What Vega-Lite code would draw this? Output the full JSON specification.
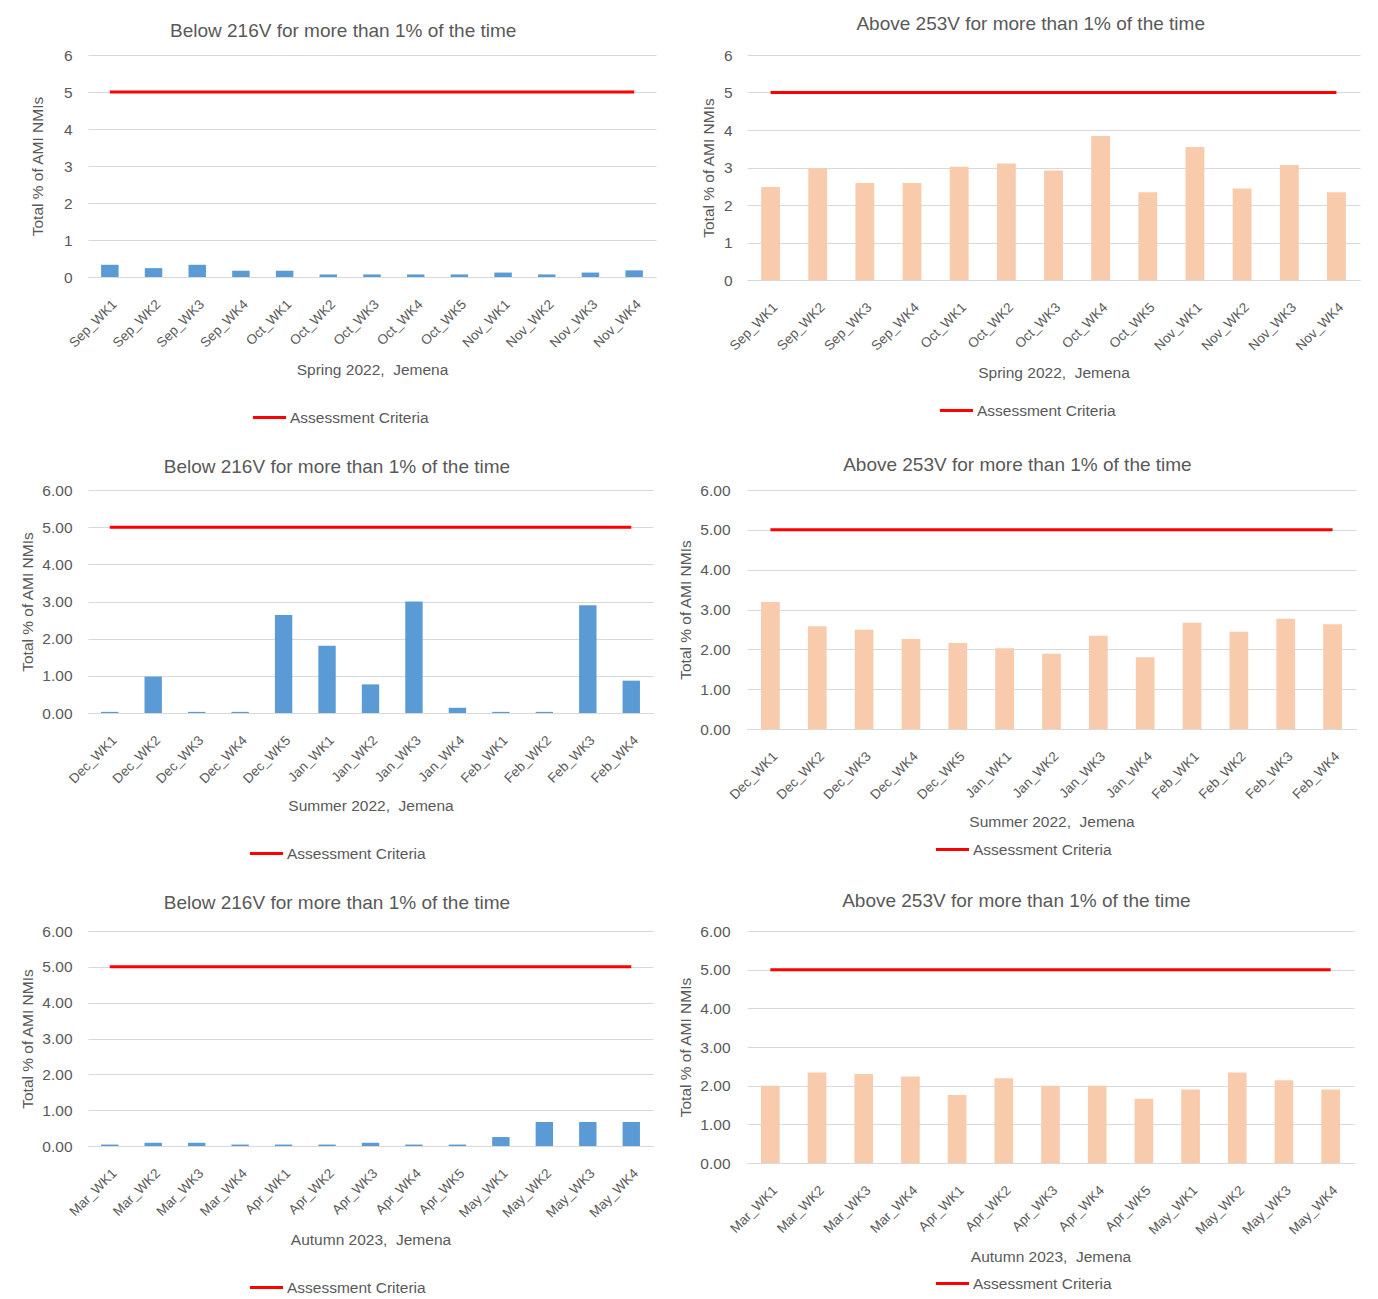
{
  "$schema": "https://vega.github.io/schema/vega-lite/v6.json",
  "background": "white",
  "padding": {"left": 20, "top": 15, "right": 5, "bottom": 0},
  "datasets": {
    "p1": [
      {"week": "Sep_WK1", "value": 0.33, "criteria": 5},
      {"week": "Sep_WK2", "value": 0.24, "criteria": 5},
      {"week": "Sep_WK3", "value": 0.33, "criteria": 5},
      {"week": "Sep_WK4", "value": 0.17, "criteria": 5},
      {"week": "Oct_WK1", "value": 0.17, "criteria": 5},
      {"week": "Oct_WK2", "value": 0.07, "criteria": 5},
      {"week": "Oct_WK3", "value": 0.07, "criteria": 5},
      {"week": "Oct_WK4", "value": 0.07, "criteria": 5},
      {"week": "Oct_WK5", "value": 0.07, "criteria": 5},
      {"week": "Nov_WK1", "value": 0.12, "criteria": 5},
      {"week": "Nov_WK2", "value": 0.07, "criteria": 5},
      {"week": "Nov_WK3", "value": 0.12, "criteria": 5},
      {"week": "Nov_WK4", "value": 0.18, "criteria": 5}
    ],
    "p2": [
      {"week": "Sep_WK1", "value": 2.48, "criteria": 5},
      {"week": "Sep_WK2", "value": 2.98, "criteria": 5},
      {"week": "Sep_WK3", "value": 2.59, "criteria": 5},
      {"week": "Sep_WK4", "value": 2.59, "criteria": 5},
      {"week": "Oct_WK1", "value": 3.02, "criteria": 5},
      {"week": "Oct_WK2", "value": 3.11, "criteria": 5},
      {"week": "Oct_WK3", "value": 2.92, "criteria": 5},
      {"week": "Oct_WK4", "value": 3.84, "criteria": 5},
      {"week": "Oct_WK5", "value": 2.34, "criteria": 5},
      {"week": "Nov_WK1", "value": 3.55, "criteria": 5},
      {"week": "Nov_WK2", "value": 2.44, "criteria": 5},
      {"week": "Nov_WK3", "value": 3.07, "criteria": 5},
      {"week": "Nov_WK4", "value": 2.34, "criteria": 5}
    ],
    "p3": [
      {"week": "Dec_WK1", "value": 0.03, "criteria": 5},
      {"week": "Dec_WK2", "value": 0.98, "criteria": 5},
      {"week": "Dec_WK3", "value": 0.03, "criteria": 5},
      {"week": "Dec_WK4", "value": 0.03, "criteria": 5},
      {"week": "Dec_WK5", "value": 2.64, "criteria": 5},
      {"week": "Jan_WK1", "value": 1.81, "criteria": 5},
      {"week": "Jan_WK2", "value": 0.77, "criteria": 5},
      {"week": "Jan_WK3", "value": 3.0, "criteria": 5},
      {"week": "Jan_WK4", "value": 0.14, "criteria": 5},
      {"week": "Feb_WK1", "value": 0.03, "criteria": 5},
      {"week": "Feb_WK2", "value": 0.03, "criteria": 5},
      {"week": "Feb_WK3", "value": 2.9, "criteria": 5},
      {"week": "Feb_WK4", "value": 0.87, "criteria": 5}
    ],
    "p4": [
      {"week": "Dec_WK1", "value": 3.19, "criteria": 5},
      {"week": "Dec_WK2", "value": 2.58, "criteria": 5},
      {"week": "Dec_WK3", "value": 2.49, "criteria": 5},
      {"week": "Dec_WK4", "value": 2.26, "criteria": 5},
      {"week": "Dec_WK5", "value": 2.16, "criteria": 5},
      {"week": "Jan_WK1", "value": 2.03, "criteria": 5},
      {"week": "Jan_WK2", "value": 1.89, "criteria": 5},
      {"week": "Jan_WK3", "value": 2.34, "criteria": 5},
      {"week": "Jan_WK4", "value": 1.8, "criteria": 5},
      {"week": "Feb_WK1", "value": 2.67, "criteria": 5},
      {"week": "Feb_WK2", "value": 2.44, "criteria": 5},
      {"week": "Feb_WK3", "value": 2.77, "criteria": 5},
      {"week": "Feb_WK4", "value": 2.63, "criteria": 5}
    ],
    "p5": [
      {"week": "Mar_WK1", "value": 0.04, "criteria": 5},
      {"week": "Mar_WK2", "value": 0.09, "criteria": 5},
      {"week": "Mar_WK3", "value": 0.09, "criteria": 5},
      {"week": "Mar_WK4", "value": 0.04, "criteria": 5},
      {"week": "Apr_WK1", "value": 0.04, "criteria": 5},
      {"week": "Apr_WK2", "value": 0.04, "criteria": 5},
      {"week": "Apr_WK3", "value": 0.09, "criteria": 5},
      {"week": "Apr_WK4", "value": 0.04, "criteria": 5},
      {"week": "Apr_WK5", "value": 0.04, "criteria": 5},
      {"week": "May_WK1", "value": 0.25, "criteria": 5},
      {"week": "May_WK2", "value": 0.67, "criteria": 5},
      {"week": "May_WK3", "value": 0.67, "criteria": 5},
      {"week": "May_WK4", "value": 0.67, "criteria": 5}
    ],
    "p6": [
      {"week": "Mar_WK1", "value": 2.0, "criteria": 5},
      {"week": "Mar_WK2", "value": 2.34, "criteria": 5},
      {"week": "Mar_WK3", "value": 2.3, "criteria": 5},
      {"week": "Mar_WK4", "value": 2.24, "criteria": 5},
      {"week": "Apr_WK1", "value": 1.76, "criteria": 5},
      {"week": "Apr_WK2", "value": 2.19, "criteria": 5},
      {"week": "Apr_WK3", "value": 2.0, "criteria": 5},
      {"week": "Apr_WK4", "value": 2.0, "criteria": 5},
      {"week": "Apr_WK5", "value": 1.66, "criteria": 5},
      {"week": "May_WK1", "value": 1.9, "criteria": 5},
      {"week": "May_WK2", "value": 2.34, "criteria": 5},
      {"week": "May_WK3", "value": 2.14, "criteria": 5},
      {"week": "May_WK4", "value": 1.9, "criteria": 5}
    ]
  },
  "resolve": {"scale": {"color": "independent"}, "legend": {"color": "independent"}},
  "columns": 2,
  "spacing": {"row": 30, "column": 22},
  "concat": [
    {
      "width": 568, "height": 222,
      "data": {"name": "p1"},
      "title": {"text": "Below 216V for more than 1% of the time", "offset": 7},
      "encoding": {"x": {"field": "week", "type": "nominal", "sort": null, "scale": {"paddingInner": 0.6, "paddingOuter": 0.3}, "axis": {"title": "Spring 2022,\u00a0 Jemena"}}},
      "layer": [
        {"mark": {"type": "bar", "color": "#5B9BD5"},
         "encoding": {"y": {"field": "value", "type": "quantitative", "scale": {"domain": [0, 6]}, "axis": {"title": "Total % of AMI NMIs", "values": [0,1,2,3,4,5,6], "format": "d", "titlePadding": 18, "labelPadding": 16}}}},
        {"mark": {"type": "line", "strokeWidth": 3},
         "encoding": {"y": {"field": "criteria", "type": "quantitative", "scale": {"domain": [0, 6]}, "axis": {"title": "Total % of AMI NMIs", "values": [0,1,2,3,4,5,6], "format": "d", "titlePadding": 18, "labelPadding": 16}},
           "color": {"datum": "Assessment Criteria", "type": "nominal", "scale": {"range": ["#FF0000"]}, "legend": {"orient": "none", "legendX": 163, "legendY": 344}}}}
      ]
    },
    {
      "width": 613, "height": 225,
      "data": {"name": "p2"},
      "title": {"text": "Above 253V for more than 1% of the time", "offset": 14},
      "encoding": {"x": {"field": "week", "type": "nominal", "sort": null, "scale": {"paddingInner": 0.6, "paddingOuter": 0.3}, "axis": {"title": "Spring 2022,\u00a0 Jemena"}}},
      "layer": [
        {"mark": {"type": "bar", "color": "#F8CBAD"},
         "encoding": {"y": {"field": "value", "type": "quantitative", "scale": {"domain": [0, 6]}, "axis": {"title": "Total % of AMI NMIs", "values": [0,1,2,3,4,5,6], "format": "d", "titlePadding": 7, "labelPadding": 15}}}},
        {"mark": {"type": "line", "strokeWidth": 3},
         "encoding": {"y": {"field": "criteria", "type": "quantitative", "scale": {"domain": [0, 6]}, "axis": {"title": "Total % of AMI NMIs", "values": [0,1,2,3,4,5,6], "format": "d", "titlePadding": 7, "labelPadding": 15}},
           "color": {"datum": "Assessment Criteria", "type": "nominal", "scale": {"range": ["#FF0000"]}, "legend": {"orient": "none", "legendX": 191, "legendY": 337}}}}
      ]
    },
    {
      "width": 565, "height": 223,
      "data": {"name": "p3"},
      "title": {"text": "Below 216V for more than 1% of the time", "offset": 6},
      "encoding": {"x": {"field": "week", "type": "nominal", "sort": null, "scale": {"paddingInner": 0.6, "paddingOuter": 0.3}, "axis": {"title": "Summer 2022,\u00a0 Jemena"}}},
      "layer": [
        {"mark": {"type": "bar", "color": "#5B9BD5"},
         "encoding": {"y": {"field": "value", "type": "quantitative", "scale": {"domain": [0, 6]}, "axis": {"title": "Total % of AMI NMIs", "values": [0,1,2,3,4,5,6], "format": ".2f", "titlePadding": 6, "labelPadding": 16}}}},
        {"mark": {"type": "line", "strokeWidth": 3},
         "encoding": {"y": {"field": "criteria", "type": "quantitative", "scale": {"domain": [0, 6]}, "axis": {"title": "Total % of AMI NMIs", "values": [0,1,2,3,4,5,6], "format": ".2f", "titlePadding": 6, "labelPadding": 16}},
           "color": {"datum": "Assessment Criteria", "type": "nominal", "scale": {"range": ["#FF0000"]}, "legend": {"orient": "none", "legendX": 160, "legendY": 345}}}}
      ]
    },
    {
      "width": 609, "height": 239,
      "data": {"name": "p4"},
      "title": {"text": "Above 253V for more than 1% of the time", "offset": 8},
      "encoding": {"x": {"field": "week", "type": "nominal", "sort": null, "scale": {"paddingInner": 0.6, "paddingOuter": 0.3}, "axis": {"title": "Summer 2022,\u00a0 Jemena"}}},
      "layer": [
        {"mark": {"type": "bar", "color": "#F8CBAD"},
         "encoding": {"y": {"field": "value", "type": "quantitative", "scale": {"domain": [0, 6]}, "axis": {"title": "Total % of AMI NMIs", "values": [0,1,2,3,4,5,6], "format": ".2f", "titlePadding": 6, "labelPadding": 17}}}},
        {"mark": {"type": "line", "strokeWidth": 3},
         "encoding": {"y": {"field": "criteria", "type": "quantitative", "scale": {"domain": [0, 6]}, "axis": {"title": "Total % of AMI NMIs", "values": [0,1,2,3,4,5,6], "format": ".2f", "titlePadding": 6, "labelPadding": 17}},
           "color": {"datum": "Assessment Criteria", "type": "nominal", "scale": {"range": ["#FF0000"]}, "legend": {"orient": "none", "legendX": 187, "legendY": 341}}}}
      ]
    },
    {
      "width": 565, "height": 215,
      "data": {"name": "p5"},
      "title": {"text": "Below 216V for more than 1% of the time", "offset": 11},
      "encoding": {"x": {"field": "week", "type": "nominal", "sort": null, "scale": {"paddingInner": 0.6, "paddingOuter": 0.3}, "axis": {"title": "Autumn 2023,\u00a0 Jemena"}}},
      "layer": [
        {"mark": {"type": "bar", "color": "#5B9BD5"},
         "encoding": {"y": {"field": "value", "type": "quantitative", "scale": {"domain": [0, 6]}, "axis": {"title": "Total % of AMI NMIs", "values": [0,1,2,3,4,5,6], "format": ".2f", "titlePadding": 6, "labelPadding": 16}}}},
        {"mark": {"type": "line", "strokeWidth": 3},
         "encoding": {"y": {"field": "criteria", "type": "quantitative", "scale": {"domain": [0, 6]}, "axis": {"title": "Total % of AMI NMIs", "values": [0,1,2,3,4,5,6], "format": ".2f", "titlePadding": 6, "labelPadding": 16}},
           "color": {"datum": "Assessment Criteria", "type": "nominal", "scale": {"range": ["#FF0000"]}, "legend": {"orient": "none", "legendX": 160, "legendY": 338}}}}
      ]
    },
    {
      "width": 607, "height": 232,
      "data": {"name": "p6"},
      "title": {"text": "Above 253V for more than 1% of the time", "offset": 13},
      "encoding": {"x": {"field": "week", "type": "nominal", "sort": null, "scale": {"paddingInner": 0.6, "paddingOuter": 0.3}, "axis": {"title": "Autumn 2023,\u00a0 Jemena"}}},
      "layer": [
        {"mark": {"type": "bar", "color": "#F8CBAD"},
         "encoding": {"y": {"field": "value", "type": "quantitative", "scale": {"domain": [0, 6]}, "axis": {"title": "Total % of AMI NMIs", "values": [0,1,2,3,4,5,6], "format": ".2f", "titlePadding": 6, "labelPadding": 17}}}},
        {"mark": {"type": "line", "strokeWidth": 3},
         "encoding": {"y": {"field": "criteria", "type": "quantitative", "scale": {"domain": [0, 6]}, "axis": {"title": "Total % of AMI NMIs", "values": [0,1,2,3,4,5,6], "format": ".2f", "titlePadding": 6, "labelPadding": 17}},
           "color": {"datum": "Assessment Criteria", "type": "nominal", "scale": {"range": ["#FF0000"]}, "legend": {"orient": "none", "legendX": 187, "legendY": 334}}}}
      ]
    }
  ],
  "config": {
    "font": "Liberation Sans",
    "view": {"stroke": null},
    "title": {"fontSize": 19, "fontWeight": "normal", "color": "#595959", "frame": "bounds", "anchor": "middle"},
    "axis": {"labelColor": "#595959", "titleColor": "#595959", "titleFontWeight": "normal", "labelFont": "Liberation Sans", "titleFont": "Liberation Sans"},
    "axisY": {"domain": false, "ticks": false, "gridColor": "#D9D9D9", "labelFontSize": 15.5, "titleFontSize": 15.5},
    "axisX": {"domainColor": "#D9D9D9", "ticks": false, "grid": false, "labelAngle": -45, "labelFontSize": 13.5, "titleFontSize": 15.5, "labelPadding": 20, "titlePadding": 13},
    "legend": {"symbolType": "stroke", "symbolStrokeWidth": 3, "symbolSize": 1100, "labelFontSize": 15.5, "labelColor": "#595959", "labelOffset": 2, "padding": 0, "title": null, "direction": "horizontal"}
  }
}
